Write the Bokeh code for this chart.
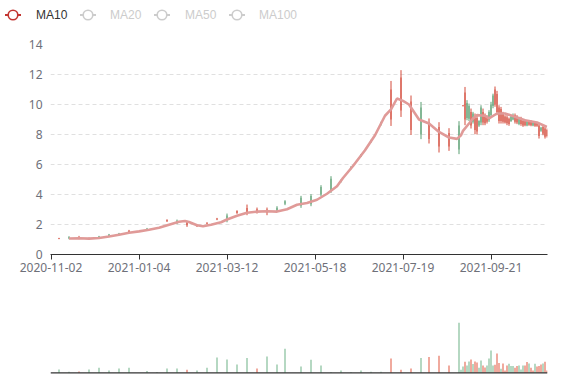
from bokeh.plotting import figure
from bokeh.models import Range1d, FixedTicker, Span, ColumnDataSource, Div
from bokeh.layouts import column
from bokeh.embed import file_html
from bokeh.resources import INLINE

# ---------------- data ----------------
tick_labels = ["2020-11-02", "2021-01-04", "2021-03-12", "2021-05-18", "2021-07-19", "2021-09-21"]
tick_step = 44          # trading days between axis labels
last_day = 248          # index of last trading day

legend_names = ["MA10", "MA20", "MA50", "MA100"]
legend_active = [True, False, False, False]

day = [4, 9, 14, 19, 24, 29, 34, 39, 48, 53, 58, 63, 68, 73, 78, 83, 88, 93, 98, 103,
       108, 113, 117, 125, 130, 135, 140, 145, 150, 155, 160, 165, 170, 175, 180, 185,
       189, 194, 199, 204, 205,
       206, 207, 208, 209, 210, 211, 212, 213, 214, 215, 216, 217, 218, 219, 220, 221,
       222, 223, 224, 225, 226, 227, 228, 229, 230, 231, 232, 233, 234, 235, 236, 237,
       238, 239, 240, 241, 242, 243, 244, 245, 246, 247, 248]
open_ = [1.04, 1.15, 1.06, 1.04, 1.20, 1.33, 1.40, 1.50, 1.72, 1.77, 2.22, 2.25, 1.95, 1.88, 2.05, 2.33, 2.60, 2.76, 2.78, 2.85,
         2.80, 3.12, 3.55, 3.78, 3.90, 4.50, 5.05, 4.97, 5.85, 6.66, 7.62, 8.80, 9.00, 9.60, 8.30, 9.80,
         7.70, 7.20, 7.20, 8.60, 8.02,
         9.89, 9.00, 10.10, 9.90, 8.60, 9.40, 8.30, 8.20, 8.90, 9.80, 8.80, 8.75, 8.85, 9.50, 10.00, 10.60,
         10.00, 9.50, 8.90, 8.90, 8.85, 8.80, 8.75, 8.70, 9.20, 9.30, 8.85, 8.80, 9.10, 8.70, 8.60, 8.62,
         8.90, 8.65, 8.62, 8.82, 8.58, 8.58, 7.90, 8.45, 8.05, 7.85, 7.90]
close = [1.09, 1.08, 1.12, 1.08, 1.12, 1.25, 1.32, 1.58, 1.62, 1.74, 2.30, 2.10, 2.15, 1.97, 2.12, 2.40, 2.28, 2.90, 3.10, 3.02,
         3.00, 2.92, 3.38, 3.25, 3.35, 4.00, 4.30, 4.85, 5.72, 6.55, 7.50, 8.66, 11.00, 11.80, 10.20, 8.00,
         8.80, 8.50, 8.10, 7.00, 7.93,
         9.95, 10.80, 9.10, 9.05, 9.50, 8.85, 9.10, 9.10, 8.60, 8.80, 9.50, 9.25, 9.15, 8.95, 9.30, 9.90,
         11.00, 10.70, 9.80, 9.70, 9.40, 9.20, 9.15, 9.05, 8.90, 9.00, 9.30, 9.20, 8.70, 9.10, 8.90, 8.92,
         8.60, 8.88, 8.88, 8.60, 8.78, 8.78, 8.60, 8.25, 8.50, 8.40, 8.30]
low = [1.02, 1.02, 1.02, 1.02, 1.07, 1.20, 1.27, 1.44, 1.57, 1.71, 2.17, 2.02, 1.84, 1.84, 2.02, 2.29, 2.15, 2.71, 2.62, 2.73,
       2.62, 2.82, 3.29, 3.11, 3.22, 3.89, 4.11, 4.80, 5.68, 6.50, 7.45, 8.60, 8.57, 9.17, 7.97, 7.69,
       7.40, 6.80, 6.91, 6.69, 7.90,
       9.88, 8.62, 8.95, 8.90, 8.40, 8.73, 8.02, 8.00, 8.51, 8.62, 8.62, 8.62, 8.73, 8.84, 9.15, 9.75,
       9.85, 9.29, 8.73, 8.73, 8.73, 8.73, 8.62, 8.58, 8.84, 8.95, 8.73, 8.69, 8.62, 8.58, 8.51, 8.55,
       8.55, 8.58, 8.55, 8.55, 8.51, 8.51, 7.73, 8.18, 7.95, 7.73, 7.80]
high = [1.11, 1.22, 1.24, 1.13, 1.24, 1.37, 1.44, 1.64, 1.77, 1.79, 2.35, 2.33, 2.24, 2.02, 2.15, 2.44, 2.73, 2.95, 3.33, 3.13,
        3.13, 3.22, 3.62, 3.91, 4.02, 4.62, 5.22, 5.00, 5.88, 6.70, 7.65, 8.85, 11.57, 12.29, 10.60, 10.17,
        9.07, 8.82, 8.42, 8.89, 8.05,
        9.96, 11.17, 10.29, 10.06, 9.73, 9.51, 9.40, 9.35, 8.95, 9.95, 9.73, 9.40, 9.29, 9.62, 10.18, 10.72,
        11.20, 10.91, 9.95, 9.84, 9.51, 9.29, 9.29, 9.13, 9.29, 9.40, 9.40, 9.29, 9.18, 9.18, 9.00, 9.00,
        8.95, 8.95, 8.95, 8.89, 8.84, 8.84, 8.73, 8.51, 8.62, 8.51, 8.40]

ma_day = [9, 14, 19, 24, 29, 34, 39, 44, 49, 54, 59, 64, 67, 69, 73, 76, 80, 85, 88, 93,
          98, 103, 108, 113, 118, 123, 128, 133, 138, 143, 146, 151, 157, 162, 167, 170, 173, 176,
          179, 182, 184, 189, 194, 199, 203, 205, 206, 209, 211, 213, 217, 219, 223, 227, 232,
          237, 243, 248]
ma10 = [1.07, 1.08, 1.06, 1.10, 1.20, 1.32, 1.45, 1.54, 1.65, 1.78, 1.98, 2.18, 2.23, 2.17, 1.95, 1.88, 1.98, 2.15, 2.33, 2.58,
        2.78, 2.86, 2.88, 2.86, 3.02, 3.32, 3.43, 3.65, 4.05, 4.55, 5.10, 5.90, 6.95, 7.95, 9.25, 9.67, 10.40, 10.24,
        10.00, 9.40, 9.00, 8.73, 8.17, 7.80, 7.71, 7.95, 8.24, 8.73, 9.07, 9.29, 9.25, 9.07, 9.40, 9.40, 9.18,
        8.95, 8.80, 8.51]

vol_day = [4, 9, 14, 19, 24, 29, 34, 39, 48, 53, 58, 63, 68, 73, 78, 83, 88, 93, 98, 103,
           108, 113, 117, 125, 130, 135, 140, 145, 150, 155, 160, 165, 170, 175, 180, 185,
           189, 194, 199, 204,
           205, 206, 207, 208, 209, 210, 211, 212, 213, 214, 215, 216, 217, 218, 219, 220, 221,
           222, 223, 224, 225, 226, 227, 228, 229, 230, 231, 232, 233, 234, 235, 236, 237,
           238, 239, 240, 241, 242, 243, 244, 245, 246, 247, 248]
volume = [3.3, 1.0, 1.3, 3.3, 5.0, 2.3, 4.3, 5.0, 1.7, 0.7, 4.3, 4.3, 3.0, 2.3, 5.0, 15.3, 13.3, 8.3, 14.7, 4.3,
          16.3, 8.3, 24.0, 6.3, 13.0, 7.3, 0.7, 2.3, 0.7, 2.3, 1.0, 1.0, 14.3, 3.0, 4.3, 14.7,
          15.7, 17.0, 7.3, 50.0,
          3.0, 6.3, 11.0, 7.3, 11.3, 13.3, 8.7, 11.3, 10.3, 5.0, 12.3, 7.3, 5.3, 7.3, 14.3, 22.3, 7.3,
          8.0, 19.3, 9.7, 4.0, 9.3, 2.3, 7.3, 9.0, 6.7, 6.7, 5.0, 6.7, 7.3, 3.3, 7.3, 7.3,
          10.7, 9.3, 5.0, 2.3, 9.0, 6.3, 6.7, 8.3, 9.3, 11.0, 2.3]
vol_rise = [0, 0, 1, 0, 0, 0, 0, 0, 0, 0, 0, 0, 1, 0, 0, 0, 0, 0, 0, 1,
            0, 0, 0, 0, 0, 0, 0, 0, 0, 0, 0, 0, 1, 1, 1, 0,
            1, 1, 1, 0,
            0, 0, 1, 0, 0, 1, 0, 1, 1, 0, 0, 1, 1, 0, 0, 0, 0,
            1, 1, 1, 0, 1, 1, 1, 0, 0, 0, 1, 1, 0, 0, 0, 1,
            1, 0, 1, 1, 0, 1, 1, 1, 0, 1, 1]

# ---------------- styles ----------------
UP = "#d44b3b"
DOWN = "#5b9f73"
VOL_UP = "#eb8e7e"
VOL_DOWN = "#9ccbae"
MA_COLOR = "#c23531"
MA_LINE = "#e09a98"
FONT = "Noto Sans"
LABEL_COLOR = "#6e7079"

W = 570

# ---------------- legend strip (inline svg) ----------------
icon_x = [13, 88, 162, 237]
text_x = [36, 110, 185, 259]
parts = []
for name, act, cx, tx in zip(legend_names, legend_active, icon_x, text_x):
    col = MA_COLOR if act else "#cccccc"
    tcol = "#333333" if act else "#cccccc"
    parts.append(
        f'<line x1="{cx - 8}" y1="15" x2="{cx + 8}" y2="15" stroke="{col}" stroke-width="2"/>'
        f'<circle cx="{cx}" cy="15" r="4.8" fill="#ffffff" stroke="{col}" stroke-width="1.6"/>'
        f'<text x="{tx}" y="15" dy="0.35em" font-family="{FONT}" font-size="12px" fill="{tcol}">{name}</text>'
    )
svg = (f'<svg xmlns="http://www.w3.org/2000/svg" width="{W}" height="28" '
       f'style="display:block">' + "".join(parts) + '</svg>')
leg = Div(text=svg, width=W, height=28, styles={"margin": "0", "padding": "0"})

# ---------------- main candlestick ----------------
p = figure(width=W, height=256, x_range=Range1d(-0.25, last_day + 0.25), y_range=Range1d(0, 14),
           output_backend="svg", toolbar_location=None,
           min_border_left=50, min_border_right=23, min_border_top=16, min_border_bottom=30)
p.outline_line_color = None
p.xgrid.visible = False
p.ygrid.grid_line_color = "#e0e0e0"
p.ygrid.grid_line_dash = "4 3"
p.ygrid.grid_line_width = 1

p.yaxis.ticker = FixedTicker(ticks=[0, 2, 4, 6, 8, 10, 12, 14])
p.yaxis.axis_line_color = None
p.yaxis.major_tick_line_color = None
p.yaxis.major_tick_out = 0
p.yaxis.major_tick_in = 0
p.yaxis.minor_tick_line_color = None
p.yaxis.major_label_standoff = 8
p.yaxis.major_label_text_font = FONT
p.yaxis.major_label_text_font_size = "12px"
p.yaxis.major_label_text_color = LABEL_COLOR

ticks = [i * tick_step for i in range(len(tick_labels))]
p.xaxis.ticker = FixedTicker(ticks=ticks)
p.xaxis.major_label_overrides = {t: lab for t, lab in zip(ticks, tick_labels)}
p.xaxis.axis_line_color = "#333333"
p.xaxis.major_tick_line_color = "#333333"
p.xaxis.major_tick_out = 5
p.xaxis.major_tick_in = 0
p.xaxis.minor_tick_line_color = None
p.xaxis.major_label_standoff = 3
p.xaxis.major_label_text_font = FONT
p.xaxis.major_label_text_font_size = "12px"
p.xaxis.major_label_text_color = LABEL_COLOR

colors = [UP if c >= o else DOWN for o, c in zip(open_, close)]
src = ColumnDataSource(dict(day=day, low=low, high=high,
                            top=[max(o, c) for o, c in zip(open_, close)],
                            bottom=[min(o, c) for o, c in zip(open_, close)],
                            color=colors))
p.segment(x0="day", y0="low", x1="day", y1="high", line_color="color", line_width=1, source=src)
p.vbar(x="day", width=0.5, top="top", bottom="bottom", fill_color="color", line_color=None, source=src)
p.line(ma_day, ma10, line_color=MA_LINE, line_width=2.6)

# ---------------- volume ----------------
pv = figure(width=W, height=92, x_range=p.x_range, y_range=Range1d(-3.7, 88.3),
            output_backend="svg", toolbar_location=None,
            min_border_left=50, min_border_right=23, min_border_top=0, min_border_bottom=0,
            x_axis_location=None, y_axis_location=None)
pv.grid.visible = False
pv.outline_line_color = None
vsrc = ColumnDataSource(dict(day=vol_day, vol=volume,
                             color=[VOL_UP if r else VOL_DOWN for r in vol_rise]))
pv.vbar(x="day", width=0.75, top="vol", bottom=0, fill_color="color", line_color=None, source=vsrc)
pv.add_layout(Span(location=0, dimension="width", line_color="#333333", line_width=1.2))

layout = column(leg, p, pv, spacing=0)
open("out.html", "w").write(file_html(layout, INLINE))
